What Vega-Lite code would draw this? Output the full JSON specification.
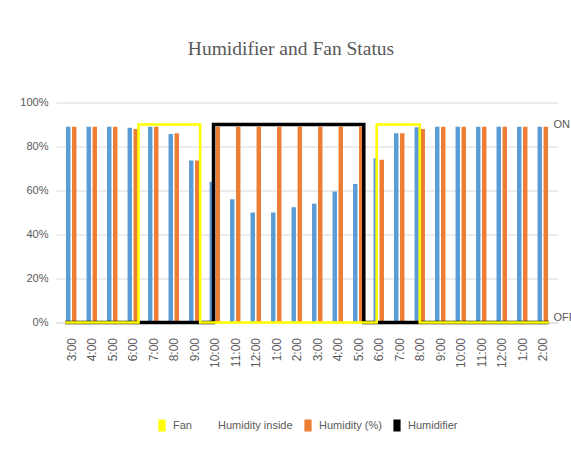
{
  "$schema": "https://vega.github.io/schema/vega-lite/v6.json",
  "width": 502,
  "height": 220,
  "autosize": {"type": "none"},
  "padding": {"left": 56, "top": 102.5, "right": 13, "bottom": 133.5},
  "background": "white",
  "title": {
    "text": "Humidifier and Fan Status",
    "font": "Liberation Serif",
    "fontSize": 19.5,
    "fontWeight": "normal",
    "color": "#595959",
    "anchor": "middle",
    "dx": -16,
    "offset": 37
  },
  "datasets": {
    "bars": [
      {"i": 0, "time": "3:00", "inside": 89, "pct": 89},
      {"i": 1, "time": "4:00", "inside": 89, "pct": 89},
      {"i": 2, "time": "5:00", "inside": 89, "pct": 89},
      {"i": 3, "time": "6:00", "inside": 88.5, "pct": 88},
      {"i": 4, "time": "7:00", "inside": 89, "pct": 89},
      {"i": 5, "time": "8:00", "inside": 85.7, "pct": 86},
      {"i": 6, "time": "9:00", "inside": 73.6, "pct": 73.6},
      {"i": 7, "time": "10:00", "inside": 64, "pct": 89},
      {"i": 8, "time": "11:00", "inside": 56, "pct": 89},
      {"i": 9, "time": "12:00", "inside": 50, "pct": 89},
      {"i": 10, "time": "1:00", "inside": 50, "pct": 89},
      {"i": 11, "time": "2:00", "inside": 52.4, "pct": 89},
      {"i": 12, "time": "3:00", "inside": 54, "pct": 89},
      {"i": 13, "time": "4:00", "inside": 59.5, "pct": 89},
      {"i": 14, "time": "5:00", "inside": 63, "pct": 89},
      {"i": 15, "time": "6:00", "inside": 74.7, "pct": 74},
      {"i": 16, "time": "7:00", "inside": 86, "pct": 86},
      {"i": 17, "time": "8:00", "inside": 88.8, "pct": 88},
      {"i": 18, "time": "9:00", "inside": 89, "pct": 89},
      {"i": 19, "time": "10:00", "inside": 89, "pct": 89},
      {"i": 20, "time": "11:00", "inside": 89, "pct": 89},
      {"i": 21, "time": "12:00", "inside": 89, "pct": 89},
      {"i": 22, "time": "1:00", "inside": 89, "pct": 89},
      {"i": 23, "time": "2:00", "inside": 89, "pct": 89}
    ],
    "fan": [
      {"k": 1, "i": -0.3, "v": 0},
      {"k": 2, "i": 3.28, "v": 0},
      {"k": 3, "i": 3.28, "v": 90},
      {"k": 4, "i": 6.29, "v": 90},
      {"k": 5, "i": 6.29, "v": 0},
      {"k": 6, "i": 14.9, "v": 0},
      {"k": 7, "i": 14.9, "v": 90},
      {"k": 8, "i": 17.0, "v": 90},
      {"k": 9, "i": 17.0, "v": 0},
      {"k": 10, "i": 23.3, "v": 0}
    ],
    "humidifier": [
      {"k": 1, "i": -0.3, "v": 0},
      {"k": 2, "i": 6.94, "v": 0},
      {"k": 3, "i": 6.94, "v": 90},
      {"k": 4, "i": 14.27, "v": 90},
      {"k": 5, "i": 14.27, "v": 0},
      {"k": 6, "i": 23.3, "v": 0}
    ]
  },
  "encoding": {
    "x": {
      "field": "i",
      "type": "quantitative",
      "scale": {"domain": [-0.5, 23.5], "nice": false, "zero": false},
      "axis": {
        "title": null,
        "values": [0,1,2,3,4,5,6,7,8,9,10,11,12,13,14,15,16,17,18,19,20,21,22,23],
        "labelExpr": "['3:00','4:00','5:00','6:00','7:00','8:00','9:00','10:00','11:00','12:00','1:00','2:00','3:00','4:00','5:00','6:00','7:00','8:00','9:00','10:00','11:00','12:00','1:00','2:00'][datum.value]",
        "labelAngle": -90,
        "labelFont": "Liberation Sans",
        "labelFontSize": 12,
        "labelColor": "#595959",
        "labelPadding": 15,
        "ticks": false,
        "domain": true,
        "domainColor": "#D9D9D9",
        "grid": false,
        "labelFlush": false,
        "labelOverlap": false,
        "labelBound": false
      }
    },
    "color": {
      "scale": {
        "domain": ["Fan", "Humidity inside", "Humidity (%)", "Humidifier"],
        "range": ["#FFFF00", "#5B9BD5", "#ED7D31", "#000000"]
      },
      "legend": {
        "title": null,
        "orient": "bottom",
        "direction": "horizontal",
        "offset": 51,
        "symbolType": "M-0.6,-1H0.6V1H-0.6Z",
        "symbolSize": 144,
        "symbolStrokeWidth": 0,
        "labelFont": "Liberation Sans",
        "labelFontSize": 11,
        "labelColor": "#595959",
        "labelOffset": 5,
        "columnPadding": 9,
        "encode": {
          "symbols": {
            "update": {
              "fillOpacity": {"signal": "datum.value === 'Humidity inside' ? 0 : 1"},
              "strokeOpacity": {"value": 0}
            }
          }
        }
      }
    }
  },
  "layer": [
    {
      "data": {"name": "bars"},
      "layer": [
        {
          "mark": {"type": "bar", "orient": "vertical", "width": 4.4, "xOffset": -3},
          "encoding": {
            "y": {
              "field": "inside",
              "type": "quantitative",
              "scale": {"domain": [0, 100], "nice": false},
              "axis": {
                "title": null,
                "values": [0, 20, 40, 60, 80, 100],
                "labelExpr": "datum.value + '%'",
                "labelFont": "Liberation Sans",
                "labelFontSize": 11,
                "labelColor": "#595959",
                "labelPadding": 8,
                "ticks": false,
                "domain": false,
                "grid": true,
                "gridColor": "#D9D9D9",
                "gridWidth": 1
              }
            },
            "color": {"datum": "Humidity inside", "type": "nominal"}
          }
        },
        {
          "mark": {"type": "bar", "orient": "vertical", "width": 4.4, "xOffset": 3},
          "encoding": {
            "y": {"field": "pct", "type": "quantitative"},
            "color": {"datum": "Humidity (%)", "type": "nominal"}
          }
        }
      ]
    },
    {
      "layer": [
        {
          "data": {"name": "humidifier"},
          "mark": {"type": "line", "strokeWidth": 3.5, "strokeCap": "butt", "strokeJoin": "miter"},
          "encoding": {
            "y": {
              "field": "v",
              "type": "quantitative",
              "scale": {"domain": [0, 100], "nice": false},
              "axis": {
                "orient": "right",
                "title": null,
                "values": [0, 90],
                "labelExpr": "datum.value >= 90 ? 'ON' : 'OFF'",
                "labelFont": "Liberation Sans",
                "labelFontSize": 11,
                "labelColor": "#595959",
                "labelPadding": -5,
                "labelBaseline": {"condition": {"test": "datum.value < 1", "value": "bottom"}, "value": "middle"},
                "ticks": false,
                "domain": false,
                "grid": false
              }
            },
            "order": {"field": "k", "type": "quantitative"},
            "color": {"datum": "Humidifier", "type": "nominal"}
          }
        },
        {
          "data": {"name": "fan"},
          "mark": {"type": "line", "strokeWidth": 2.6, "strokeCap": "butt", "strokeJoin": "miter"},
          "encoding": {
            "y": {"field": "v", "type": "quantitative"},
            "order": {"field": "k", "type": "quantitative"},
            "color": {"datum": "Fan", "type": "nominal"}
          }
        }
      ]
    }
  ],
  "resolve": {"scale": {"y": "independent"}},
  "config": {
    "view": {"stroke": null},
    "legend": {"layout": {"bottom": {"anchor": "middle"}}}
  }
}
